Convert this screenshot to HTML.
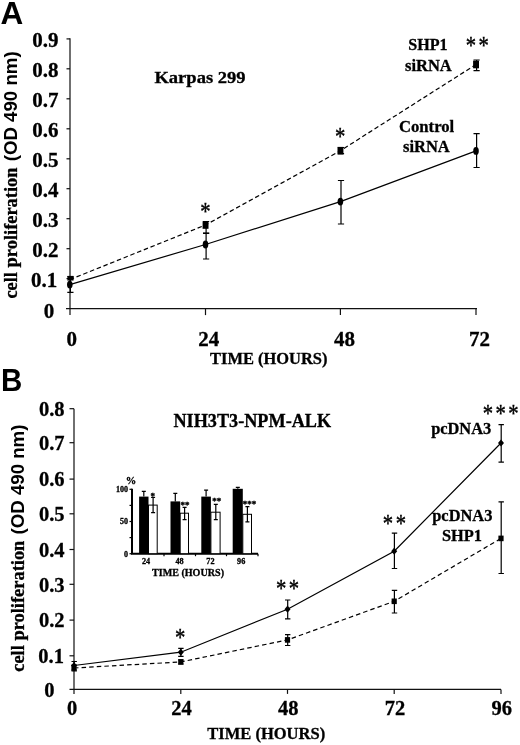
<!DOCTYPE html>
<html><head><meta charset="utf-8"><title>Figure</title>
<style>
html,body{margin:0;padding:0;background:#fff;}
body{width:520px;height:745px;overflow:hidden;}
svg{display:block;}
text{fill:#000;}
.s{font-family:"Liberation Serif","Times New Roman",serif;font-weight:bold;stroke:#000;stroke-width:0.3;}
.a{font-family:"Liberation Sans",Arial,sans-serif;font-weight:bold;}
.ast{font-family:"Liberation Serif","Times New Roman",serif;font-weight:normal;stroke:#000;stroke-width:0.4;}
.sm{stroke:#000;stroke-width:0.35;}
.ln{stroke:#000;stroke-width:1.2;fill:none;}
.ax{stroke:#111;stroke-width:1.2;fill:none;}
</style></head><body>
<svg width="520" height="745" viewBox="0 0 520 745">
<rect width="520" height="745" fill="#fff"/>

<text class="a" transform="translate(0.6,23.8) scale(1.03,1)" font-size="30.6">A</text>
<text class="a" transform="translate(1.1,391.1) scale(0.945,1)" font-size="31.2">B</text>
<path class="ax" d="M70,38.3 V315.1 M66,308.6 H477"/>
<path class="ax" d="M66.5,278.6 H70"/>
<path class="ax" d="M66.5,248.7 H70"/>
<path class="ax" d="M66.5,218.7 H70"/>
<path class="ax" d="M66.5,188.7 H70"/>
<path class="ax" d="M66.5,158.8 H70"/>
<path class="ax" d="M66.5,128.8 H70"/>
<path class="ax" d="M66.5,98.8 H70"/>
<path class="ax" d="M66.5,68.8 H70"/>
<path class="ax" d="M66.5,38.9 H70"/>
<path class="ax" d="M205.5,308.6 v6.5"/>
<path class="ax" d="M340.4,308.6 v6.5"/>
<path class="ax" d="M476.0,308.6 v6.5"/>
<text class="s" x="54.3" y="317.5" font-size="21" text-anchor="end">0</text>
<text class="s" x="57.2" y="287.4" font-size="21" text-anchor="end">0.1</text>
<text class="s" x="58.5" y="257.3" font-size="21" text-anchor="end">0.2</text>
<text class="s" x="58.5" y="227.2" font-size="21" text-anchor="end">0.3</text>
<text class="s" x="58.5" y="197.1" font-size="21" text-anchor="end">0.4</text>
<text class="s" x="58.5" y="167.0" font-size="21" text-anchor="end">0.5</text>
<text class="s" x="58.5" y="136.9" font-size="21" text-anchor="end">0.6</text>
<text class="s" x="58.5" y="106.8" font-size="21" text-anchor="end">0.7</text>
<text class="s" x="58.5" y="76.7" font-size="21" text-anchor="end">0.8</text>
<text class="s" x="58.5" y="46.6" font-size="21" text-anchor="end">0.9</text>
<text class="s" x="71.7" y="346" font-size="21" text-anchor="middle">0</text>
<text class="s" x="208.8" y="346" font-size="21" text-anchor="middle">24</text>
<text class="s" x="344.6" y="346" font-size="21" text-anchor="middle">48</text>
<text class="s" x="479.6" y="346" font-size="21" text-anchor="middle">72</text>
<text class="s" x="268.7" y="364.1" font-size="16.45" text-anchor="middle">TIME (HOURS)</text>
<text class="s" transform="translate(16.8,298.6) rotate(-90)" font-size="18.43">cell proliferation</text>
<text class="a" transform="translate(16.7,161.3) rotate(-90)" font-size="18.66">(OD 490 nm)</text>
<text class="s" transform="translate(200,82.6) scale(1.06,1)" font-size="17.5" text-anchor="middle">Karpas 299</text>
<text class="s" x="428" y="50.2" font-size="16.1" text-anchor="middle">SHP1</text>
<text class="s" x="428.4" y="70.7" font-size="16.5" text-anchor="middle">siRNA</text>
<text class="s" x="426.6" y="131.5" font-size="16.7" text-anchor="middle">Control</text>
<text class="s" x="426.4" y="151.7" font-size="16.5" text-anchor="middle">siRNA</text>
<polyline class="ln" points="69.8,284.6 205.5,244.5 340.4,201.6 476.0,150.9"/>
<polyline class="ln" stroke-dasharray="4.5 2.75" points="69.8,279.6 205.5,225.0 340.4,150.7 476.0,64.5"/>
<path class="ln" d="M70.4,278.0 V292.4 M67.3,278.0 h6.2 M67.3,292.4 h6.2"/>
<ellipse cx="69.8" cy="284.6" rx="2.8" ry="3.9" fill="#000"/>
<path class="ln" d="M206.1,233.0 V259.0 M203.0,233.0 h6.2 M203.0,259.0 h6.2"/>
<ellipse cx="205.5" cy="244.5" rx="2.8" ry="3.9" fill="#000"/>
<path class="ln" d="M341.0,180.5 V224.0 M337.9,180.5 h6.2 M337.9,224.0 h6.2"/>
<ellipse cx="340.4" cy="201.6" rx="2.8" ry="3.9" fill="#000"/>
<path class="ln" d="M476.6,133.7 V167.5 M473.5,133.7 h6.2 M473.5,167.5 h6.2"/>
<ellipse cx="476.0" cy="150.9" rx="2.8" ry="3.9" fill="#000"/>
<path class="ln" d="M70.4,276.5 V280.0 M67.3,276.5 h6.2 M67.3,280.0 h6.2"/>
<rect x="67.6" y="275.9" width="5.9" height="4.2" fill="#000"/>
<path class="ln" d="M206.1,221.5 V233.3 M203.0,221.5 h6.2 M203.0,233.3 h6.2"/>
<rect x="202.6" y="221.2" width="5.9" height="7.6" fill="#000"/>
<path class="ln" d="M341.0,147.5 V153.7 M337.9,147.5 h6.2 M337.9,153.7 h6.2"/>
<rect x="337.5" y="146.9" width="5.9" height="7.6" fill="#000"/>
<path class="ln" d="M476.6,60.0 V70.7 M473.5,60.0 h6.2 M473.5,70.7 h6.2"/>
<rect x="473.1" y="60.7" width="5.9" height="7.6" fill="#000"/>
<text class="ast" transform="translate(205.4,219.5) scale(0.88,1.08)" font-size="23.5" text-anchor="middle">*</text>
<text class="ast" transform="translate(340.1,145.1) scale(0.88,1.08)" font-size="23.5" text-anchor="middle">*</text>
<text class="ast" transform="translate(470.8,54.4) scale(0.88,1.08)" font-size="23.5" text-anchor="middle">*</text><text class="ast" transform="translate(483.6,54.4) scale(0.88,1.08)" font-size="23.5" text-anchor="middle">*</text>
<path class="ax" d="M74,408.7 V693.9 M69.5,689.4 H501"/>
<path class="ax" d="M69.5,655.8 H74"/>
<path class="ax" d="M69.5,620.1 H74"/>
<path class="ax" d="M69.5,584.3 H74"/>
<path class="ax" d="M69.5,549.5 H74"/>
<path class="ax" d="M69.5,513.8 H74"/>
<path class="ax" d="M69.5,479.1 H74"/>
<path class="ax" d="M69.5,442.7 H74"/>
<path class="ax" d="M69.5,408.7 H74"/>
<path class="ax" d="M180.8,689.4 v4.5"/>
<path class="ax" d="M287.5,689.4 v4.5"/>
<path class="ax" d="M394.2,689.4 v4.5"/>
<path class="ax" d="M501.0,689.4 v4.5"/>
<text class="s" x="54.4" y="696.7" font-size="20.5" text-anchor="end">0</text>
<text class="s" x="63.9" y="663.1" font-size="20.5" text-anchor="end">0.1</text>
<text class="s" x="64.5" y="627.4" font-size="20.5" text-anchor="end">0.2</text>
<text class="s" x="64.5" y="591.6" font-size="20.5" text-anchor="end">0.3</text>
<text class="s" x="64.5" y="556.8" font-size="20.5" text-anchor="end">0.4</text>
<text class="s" x="64.5" y="521.1" font-size="20.5" text-anchor="end">0.5</text>
<text class="s" x="64.5" y="486.4" font-size="20.5" text-anchor="end">0.6</text>
<text class="s" x="64.5" y="450.0" font-size="20.5" text-anchor="end">0.7</text>
<text class="s" x="64.5" y="416.0" font-size="20.5" text-anchor="end">0.8</text>
<text class="s" x="72.0" y="715.2" font-size="20.5" text-anchor="middle">0</text>
<text class="s" x="181.6" y="715.2" font-size="20.5" text-anchor="middle">24</text>
<text class="s" x="288.3" y="715.2" font-size="20.5" text-anchor="middle">48</text>
<text class="s" x="395.1" y="715.2" font-size="20.5" text-anchor="middle">72</text>
<text class="s" x="501.8" y="715.2" font-size="20.5" text-anchor="middle">96</text>
<text class="s" x="266.2" y="739" font-size="16.55" text-anchor="middle">TIME (HOURS)</text>
<text class="s" transform="translate(24.1,671.8) rotate(-90)" font-size="18.43">cell proliferation</text>
<text class="a" transform="translate(24.0,534.5) rotate(-90)" font-size="18.66">(OD 490 nm)</text>
<text class="s" x="252.3" y="426.5" font-size="18.2" text-anchor="middle">NIH3T3-NPM-ALK</text>
<text class="s" x="461.2" y="434.1" font-size="16.4" text-anchor="middle">pcDNA3</text>
<text class="s" x="462.3" y="520.7" font-size="16.4" text-anchor="middle">pcDNA3</text>
<text class="s" x="462" y="541.3" font-size="16.4" text-anchor="middle">SHP1</text>
<polyline class="ln" points="74.0,665.5 180.8,652.2 287.5,609.2 394.2,551.2 501.0,443.0"/>
<polyline class="ln" stroke-dasharray="4.5 3.1" points="74.0,668.0 180.8,661.9 287.5,639.9 394.2,601.3 501.0,538.4"/>
<path class="ln" d="M74.2,661.5 V670.0 M71.5,661.5 h5.4 M71.5,670.0 h5.4"/>
<path d="M74.0,661.9 l3,3.6 l-3,3.6 l-3,-3.6z" fill="#000"/>
<path class="ln" d="M180.9,648.3 V656.3 M178.2,648.3 h5.4 M178.2,656.3 h5.4"/>
<path d="M180.8,648.6 l3,3.6 l-3,3.6 l-3,-3.6z" fill="#000"/>
<path class="ln" d="M287.7,600.0 V618.9 M285.0,600.0 h5.4 M285.0,618.9 h5.4"/>
<path d="M287.5,605.6 l3,3.6 l-3,3.6 l-3,-3.6z" fill="#000"/>
<path class="ln" d="M394.4,533.2 V568.5 M391.8,533.2 h5.4 M391.8,568.5 h5.4"/>
<path d="M394.2,547.6 l3,3.6 l-3,3.6 l-3,-3.6z" fill="#000"/>
<path class="ln" d="M501.2,424.6 V462.2 M498.5,424.6 h5.4 M498.5,462.2 h5.4"/>
<path d="M501.0,439.4 l3,3.6 l-3,3.6 l-3,-3.6z" fill="#000"/>
<path class="ln" d="M74.2,665.0 V671.0 M71.5,665.0 h5.4 M71.5,671.0 h5.4"/>
<rect x="71.4" y="665.2" width="5.2" height="5.6" fill="#000"/>
<path class="ln" d="M180.9,660.0 V664.0 M178.2,660.0 h5.4 M178.2,664.0 h5.4"/>
<rect x="178.2" y="659.1" width="5.2" height="5.6" fill="#000"/>
<path class="ln" d="M287.7,634.6 V645.5 M285.0,634.6 h5.4 M285.0,645.5 h5.4"/>
<rect x="284.9" y="637.1" width="5.2" height="5.6" fill="#000"/>
<path class="ln" d="M394.4,590.4 V613.0 M391.8,590.4 h5.4 M391.8,613.0 h5.4"/>
<rect x="391.6" y="598.5" width="5.2" height="5.6" fill="#000"/>
<path class="ln" d="M501.2,501.9 V573.5 M498.5,501.9 h5.4 M498.5,573.5 h5.4"/>
<rect x="498.4" y="535.6" width="5.2" height="5.6" fill="#000"/>
<text class="ast" transform="translate(180.2,645.5) scale(0.88,1.08)" font-size="23.5" text-anchor="middle">*</text>
<text class="ast" transform="translate(281.1,597.3) scale(0.88,1.08)" font-size="23.5" text-anchor="middle">*</text><text class="ast" transform="translate(293.9,597.3) scale(0.88,1.08)" font-size="23.5" text-anchor="middle">*</text>
<text class="ast" transform="translate(388.0,532.1) scale(0.88,1.08)" font-size="23.5" text-anchor="middle">*</text><text class="ast" transform="translate(400.8,532.1) scale(0.88,1.08)" font-size="23.5" text-anchor="middle">*</text>
<text class="ast" transform="translate(487.9,421.5) scale(0.88,1.08)" font-size="23.5" text-anchor="middle">*</text><text class="ast" transform="translate(500.7,421.5) scale(0.88,1.08)" font-size="23.5" text-anchor="middle">*</text><text class="ast" transform="translate(513.5,421.5) scale(0.88,1.08)" font-size="23.5" text-anchor="middle">*</text>
<path d="M132,488.8 V553.7 H258" stroke="#000" stroke-width="2" fill="none"/>
<path d="M129.5,553.7 h2.5" stroke="#000" stroke-width="1.2"/>
<path d="M129.5,537.6 h2.5" stroke="#000" stroke-width="1.2"/>
<path d="M129.5,521.5 h2.5" stroke="#000" stroke-width="1.2"/>
<path d="M129.5,505.4 h2.5" stroke="#000" stroke-width="1.2"/>
<path d="M129.5,489.3 h2.5" stroke="#000" stroke-width="1.2"/>
<path d="M164,553.7 v2.5" stroke="#000" stroke-width="1.2"/>
<path d="M195.5,553.7 v2.5" stroke="#000" stroke-width="1.2"/>
<path d="M226.5,553.7 v2.5" stroke="#000" stroke-width="1.2"/>
<path d="M258,553.7 v2.5" stroke="#000" stroke-width="1.2"/>
<rect x="139.1" y="496.6" width="9.4" height="57.1" fill="#000"/>
<rect x="148.5" y="505.1" width="8.7" height="48.6" fill="#fff" stroke="#000" stroke-width="1"/>
<path class="ln" stroke-width="1" d="M143.8,496.6 V491.4 M141.8,491.4 h4"/>
<path class="ln" stroke-width="1" d="M153.1,497.4 V512.7 M151.1,497.4 h4 M151.1,512.7 h4"/>
<rect x="170.5" y="501.4" width="9.7" height="52.3" fill="#000"/>
<rect x="180.2" y="513.2" width="8.3" height="40.5" fill="#fff" stroke="#000" stroke-width="1"/>
<path class="ln" stroke-width="1" d="M175.3,501.4 V493.3 M173.3,493.3 h4"/>
<path class="ln" stroke-width="1" d="M184.6,507.4 V519.6 M182.6,507.4 h4 M182.6,519.6 h4"/>
<rect x="201.3" y="496.6" width="9.6" height="57.1" fill="#000"/>
<rect x="210.9" y="512.2" width="9.2" height="41.5" fill="#fff" stroke="#000" stroke-width="1"/>
<path class="ln" stroke-width="1" d="M206.1,496.6 V490.1 M204.1,490.1 h4"/>
<path class="ln" stroke-width="1" d="M215.8,504.3 V519.6 M213.8,504.3 h4 M213.8,519.6 h4"/>
<rect x="232.7" y="488.8" width="10.1" height="64.9" fill="#000"/>
<rect x="242.8" y="514.3" width="8.7" height="39.4" fill="#fff" stroke="#000" stroke-width="1"/>
<path class="ln" stroke-width="1" d="M237.8,488.8 V487.4 M235.8,487.4 h4"/>
<path class="ln" stroke-width="1" d="M247.4,506.7 V521.9 M245.4,506.7 h4 M245.4,521.9 h4"/>
<text class="s" x="131" y="483.7" font-size="10.5" text-anchor="middle">%</text>
<text class="s" x="128" y="492.1" font-size="8" text-anchor="end">100</text>
<text class="s" x="128" y="524.3" font-size="8" text-anchor="end">50</text>
<text class="s" x="128" y="556.5" font-size="8" text-anchor="end">0</text>
<text class="s" x="146" y="564.3" font-size="8.2" text-anchor="middle">24</text>
<text class="s" x="179.5" y="564.3" font-size="8.2" text-anchor="middle">48</text>
<text class="s" x="210.4" y="564.3" font-size="8.2" text-anchor="middle">72</text>
<text class="s" x="241.2" y="564.3" font-size="8.2" text-anchor="middle">96</text>
<text class="s" x="188" y="575.5" font-size="10.1" text-anchor="middle">TIME (HOURS)</text>
<text class="s sm" x="152.8" y="498.8" font-size="9" text-anchor="middle">*</text>
<text class="s sm" x="185" y="507.8" font-size="9" text-anchor="middle">**</text>
<text class="s sm" x="216.7" y="504.3" font-size="9" text-anchor="middle">**</text>
<text class="s sm" x="249.5" y="506.7" font-size="9" text-anchor="middle">***</text>
</svg></body></html>
